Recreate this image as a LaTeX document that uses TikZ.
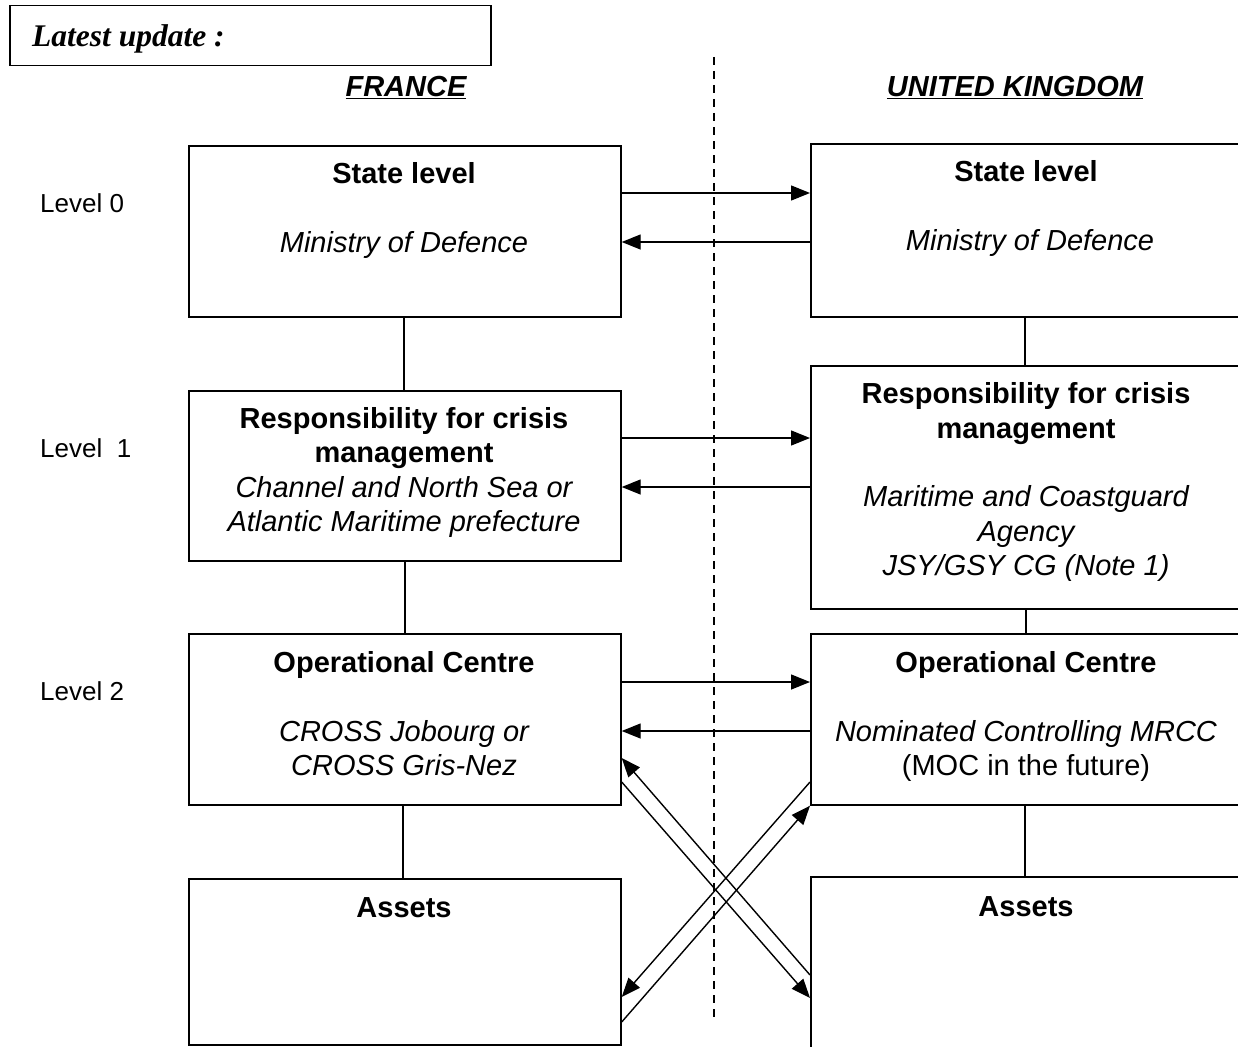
\documentclass[tikz,border=0pt]{standalone}
\usepackage{fontspec}
\setmainfont{Liberation Sans}
\newfontfamily\timesfam{Liberation Serif}
\usetikzlibrary{arrows.meta}
\tikzset{
  box/.style={draw, line width=1.7pt, rectangle},
  link/.style={line width=1.6pt},
  arr/.style={line width=1.4pt, -{Triangle[length=19pt,width=15pt]}},
  tb/.style={anchor=base, inner sep=0pt, font=\fontsize{29}{34}\selectfont\bfseries},
  ti/.style={anchor=base, inner sep=0pt, font=\fontsize{29}{34}\selectfont\itshape},
  tn/.style={anchor=base, inner sep=0pt, font=\fontsize{29}{34}\selectfont},
  lvl/.style={anchor=base west, inner sep=0pt, font=\fontsize{26}{30}\selectfont},
  country/.style={anchor=base, inner sep=0pt, font=\fontsize{29}{34}\selectfont\bfseries\itshape},
}
\begin{document}
\begin{tikzpicture}[x=1pt,y=1pt]
\useasboundingbox (0,0) rectangle (1238,-1046);
\clip (0,0) rectangle (1238,-1046);
\fill[white] (0,0) rectangle (1238,-1046);

% header
\node[box, line width=1.5pt, minimum width=481pt, minimum height=60pt, anchor=north west, inner sep=0pt] (upd) at (9,-5) {};
\node[anchor=base west, inner sep=0pt, font=\fontsize{31.5}{34}\selectfont\timesfam\bfseries\itshape] (updt) at (32,-47) {Latest update :};
\node[country] (fr) at (406,-97) {\underline{FRANCE}};
\node[country] (uk) at (1015,-97) {\underline{UNITED KINGDOM}};

% dashed divider
\coordinate (dtop) at (714,-57);
\coordinate (dbot) at (714,-1022);
\draw[line width=1.2pt, dash pattern=on 8pt off 6pt] (dtop) -- (dbot);

% level labels
\node[lvl] (lv0) at (40,-212) {Level 0};
\node[lvl] (lv1) at (40,-457) {Level\ \ 1};
\node[lvl] (lv2) at (40,-700) {Level 2};

% left boxes
\node[box, anchor=north west, minimum width=432pt, minimum height=171pt, inner sep=0pt] (L0) at (188,-145) {};
\node[box, anchor=north west, minimum width=432pt, minimum height=170pt, inner sep=0pt] (L1) at (188,-390) {};
\node[box, anchor=north west, minimum width=432pt, minimum height=171pt, inner sep=0pt] (L2) at (188,-633) {};
\node[box, anchor=north west, minimum width=432pt, minimum height=166pt, inner sep=0pt] (L3) at (188,-878) {};

% right boxes
\node[box, anchor=north west, minimum width=440pt, minimum height=173pt, inner sep=0pt] (R0) at (810,-143) {};
\node[box, anchor=north west, minimum width=440pt, minimum height=243pt, inner sep=0pt] (R1) at (810,-365) {};
\node[box, anchor=north west, minimum width=440pt, minimum height=171pt, inner sep=0pt] (R2) at (810,-633) {};
\node[box, anchor=north west, minimum width=440pt, minimum height=180pt, inner sep=0pt] (R3) at (810,-876) {};

% left texts
\node[tb] (l0a) at (404,-183) {State level};
\node[ti] (l0b) at (404,-252) {Ministry of Defence};
\node[tb] (l1a) at (404,-428) {Responsibility for crisis};
\node[tb] (l1b) at (404,-462) {management};
\node[ti] (l1c) at (404,-497) {Channel and North Sea or};
\node[ti] (l1d) at (404,-531) {Atlantic Maritime prefecture};
\node[tb] (l2a) at (404,-672) {Operational Centre};
\node[ti] (l2b) at (404,-741) {CROSS Jobourg or};
\node[ti] (l2c) at (404,-775) {CROSS Gris-Nez};
\node[tb] (l3a) at (404,-917) {Assets};

% right texts
\node[tb] (r0a) at (1026,-181) {State level};
\node[ti] (r0b) at (1030,-250) {Ministry of Defence};
\node[tb] (r1a) at (1026,-403) {Responsibility for crisis};
\node[tb] (r1b) at (1026,-438) {management};
\node[ti] (r1c) at (1026,-506) {Maritime and Coastguard};
\node[ti] (r1d) at (1026,-541) {Agency};
\node[ti] (r1e) at (1026,-575) {JSY/GSY CG (Note 1)};
\node[tb] (r2a) at (1026,-672) {Operational Centre};
\node[ti] (r2b) at (1026,-741) {Nominated Controlling MRCC};
\node[tn] (r2c) at (1026,-775) {(MOC in the future)};
\node[tb] (r3a) at (1026,-916) {Assets};

% vertical links
\draw[link] (L0.south -| 404,0) -- (L1.north -| 404,0);
\draw[link] (L1.south -| 405,0) -- (L2.north -| 405,0);
\draw[link] (L2.south -| 403,0) -- (L3.north -| 403,0);
\draw[link] (R0.south -| 1025,0) -- (R1.north -| 1025,0);
\draw[link] (R1.south -| 1026,0) -- (R2.north -| 1026,0);
\draw[link] (R2.south -| 1025,0) -- (R3.north -| 1025,0);

% horizontal arrows
\draw[arr] (L0.east |- 0,-193) -- (R0.west |- 0,-193);
\draw[arr] (R0.west |- 0,-242) -- (L0.east |- 0,-242);
\draw[arr] (L1.east |- 0,-438) -- (R1.west |- 0,-438);
\draw[arr] (R1.west |- 0,-487) -- (L1.east |- 0,-487);
\draw[arr] (L2.east |- 0,-682) -- (R2.west |- 0,-682);
\draw[arr] (R2.west |- 0,-731) -- (L2.east |- 0,-731);

% crossing arrows
\draw[arr] (R3.west |- 0,-975) -- (L2.east |- 0,-758);
\draw[arr] (L2.east |- 0,-782) -- (R3.west |- 0,-998);
\draw[arr] (R2.west |- 0,-782) -- (L3.east |- 0,-997);
\draw[arr] (L3.east |- 0,-1022) -- (R2.south west);
\end{tikzpicture}
\end{document}
